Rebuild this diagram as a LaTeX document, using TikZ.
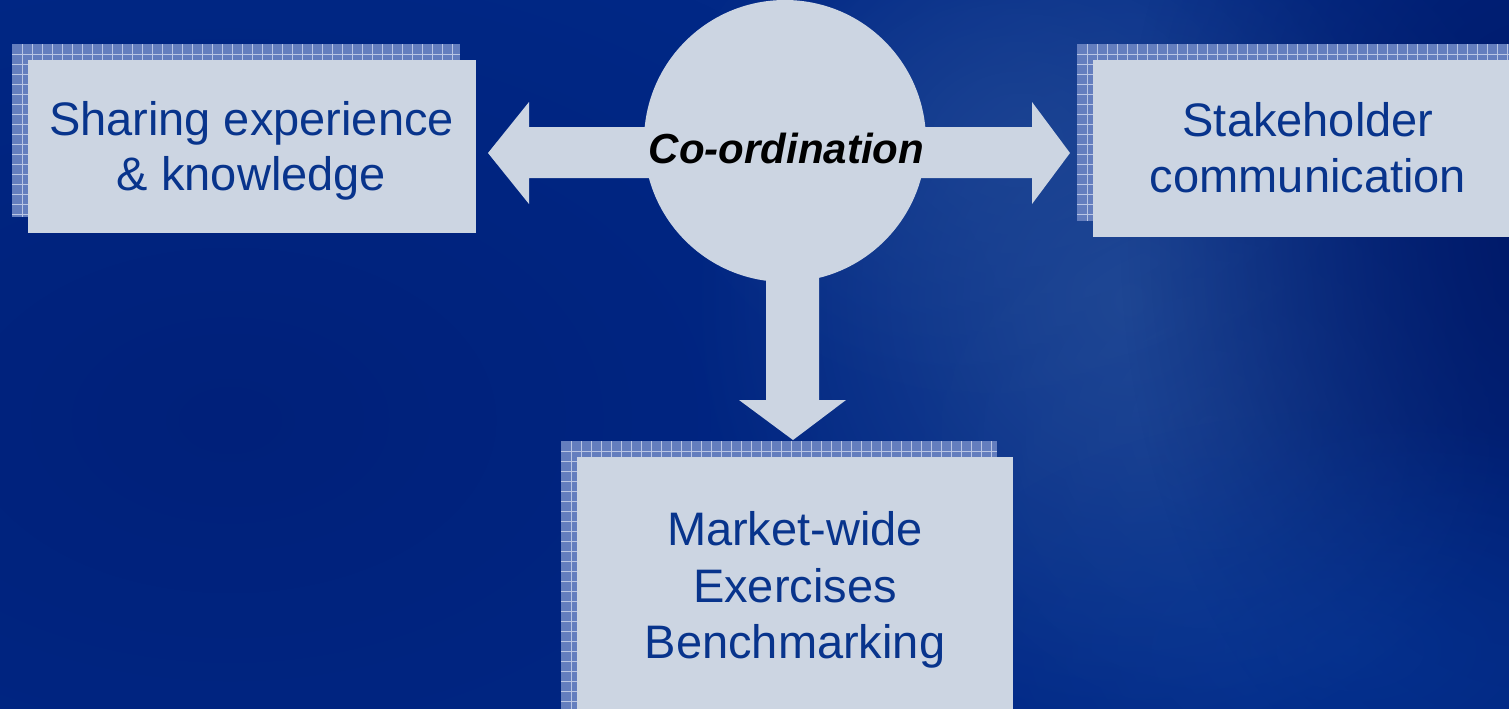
\documentclass[tikz,border=0pt]{standalone}
\usepackage{fontspec}
\setmainfont{Liberation Sans}
\usetikzlibrary{fadings}

\definecolor{bgblue}{RGB}{1,40,134}
\definecolor{bgdark}{RGB}{0,24,102}
\definecolor{bgdeep}{RGB}{0,30,118}
\definecolor{bgglow}{RGB}{34,74,150}
\definecolor{bgsoft}{RGB}{8,56,150}
\definecolor{panelfill}{RGB}{204,213,226}
\definecolor{shadefill}{RGB}{100,126,190}
\definecolor{shadeline}{RGB}{186,198,228}
\definecolor{textblue}{RGB}{8,52,140}

% soft radial spot used for the backdrop tints
\tikzfading[name=softspot, inner color=transparent!0, outer color=transparent!100]

\tikzset{
  panel/.style={fill=panelfill, draw=none, inner sep=0pt, anchor=north west},
  gridpanel/.style={fill=shadefill, draw=none, inner sep=0pt, anchor=north west,
    path picture={
      \foreach \k in {0,...,46}
        \draw[shadeline, line width=0.9pt]
          ([xshift=\k*10pt+10pt]path picture bounding box.north west) --
          ([xshift=\k*10pt+10pt]path picture bounding box.south west);
      \foreach \k in {0,...,31}
        \draw[shadeline, line width=0.9pt]
          ([yshift=-\k*10pt-10pt]path picture bounding box.north west) --
          ([yshift=-\k*10pt-10pt]path picture bounding box.north east);
    }},
  lbl/.style={text=textblue, font=\fontsize{47}{56}\selectfont, anchor=base, inner sep=0pt},
  hubtext/.style={text=black, font=\fontsize{42}{50}\selectfont\bfseries\itshape, anchor=base, inner sep=0pt},
  blockshape/.style={fill=panelfill, draw=none},
  tint/.style={path fading=softspot},
}

\begin{document}
\begin{tikzpicture}[x=1pt, y=-1pt]
\useasboundingbox (0,0) rectangle (1509,709);
\clip (0,0) rectangle (1509,709);

% backdrop
\fill[bgblue] (0,0) rectangle (1509,709);
\fill[bgdeep, opacity=0.75, tint] (230,420) ellipse [x radius=800, y radius=520];
\fill[bgglow, opacity=0.85, tint] (1130,300) ellipse [x radius=440, y radius=460];
\fill[bgglow, opacity=0.6, tint] (1020,140) ellipse [x radius=360, y radius=280];
\fill[bgglow, opacity=0.45, tint] (1210,430) ellipse [x radius=300, y radius=300];
\fill[bgdark, opacity=0.95, tint] (1540,230) ellipse [x radius=420, y radius=620];
\fill[bgsoft, opacity=0.6, tint] (1350,650) ellipse [x radius=440, y radius=240];

% panels with gridded drop shadows
\node[gridpanel, minimum width=448pt, minimum height=173pt] (sharesh) at (12,44) {};
\node[panel, minimum width=448pt, minimum height=173pt] (sharebox) at (28,60) {};

\node[gridpanel, minimum width=460pt, minimum height=177pt] (stakesh) at (1077,44) {};
\node[panel, minimum width=460pt, minimum height=177pt] (stakebox) at (1093,60) {};

\node[gridpanel, minimum width=436pt, minimum height=300pt] (marketsh) at (561,441) {};
\node[panel, minimum width=436pt, minimum height=300pt] (marketbox) at (577,457) {};

% hub and block arrows
\node[circle, fill=panelfill, draw=none, minimum size=282pt, inner sep=0pt] (hub) at (785,141) {};
\coordinate (ltip) at (488,153);
\coordinate (rtip) at (1070,153);
\coordinate (dtip) at (793,440);
\fill[blockshape] (700,127) -- (529,127) -- (529,102) -- (ltip) -- (529,204) -- (529,178) -- (700,178) -- cycle;
\fill[blockshape] (870,127) -- (1032,127) -- (1032,102) -- (rtip) -- (1032,204) -- (1032,178) -- (870,178) -- cycle;
\fill[blockshape] (766,200) -- (766,400) -- (739,400) -- (dtip) -- (846,400) -- (819,400) -- (819,200) -- cycle;

% labels
\node[hubtext] (hublabel) at (786.5,163) {Co-ordination};

\node[lbl] (share1) at (251.5,135) {Sharing experience};
\node[lbl] (share2) at (251.5,190) {\& knowledge};

\node[lbl] (stake1) at (1308,136) {Stakeholder};
\node[lbl] (stake2) at (1308,192) {communication};

\node[lbl] (market1) at (795,545) {Market-wide};
\node[lbl] (market2) at (795,602) {Exercises};
\node[lbl] (market3) at (795,658) {Benchmarking};
\end{tikzpicture}
\end{document}
